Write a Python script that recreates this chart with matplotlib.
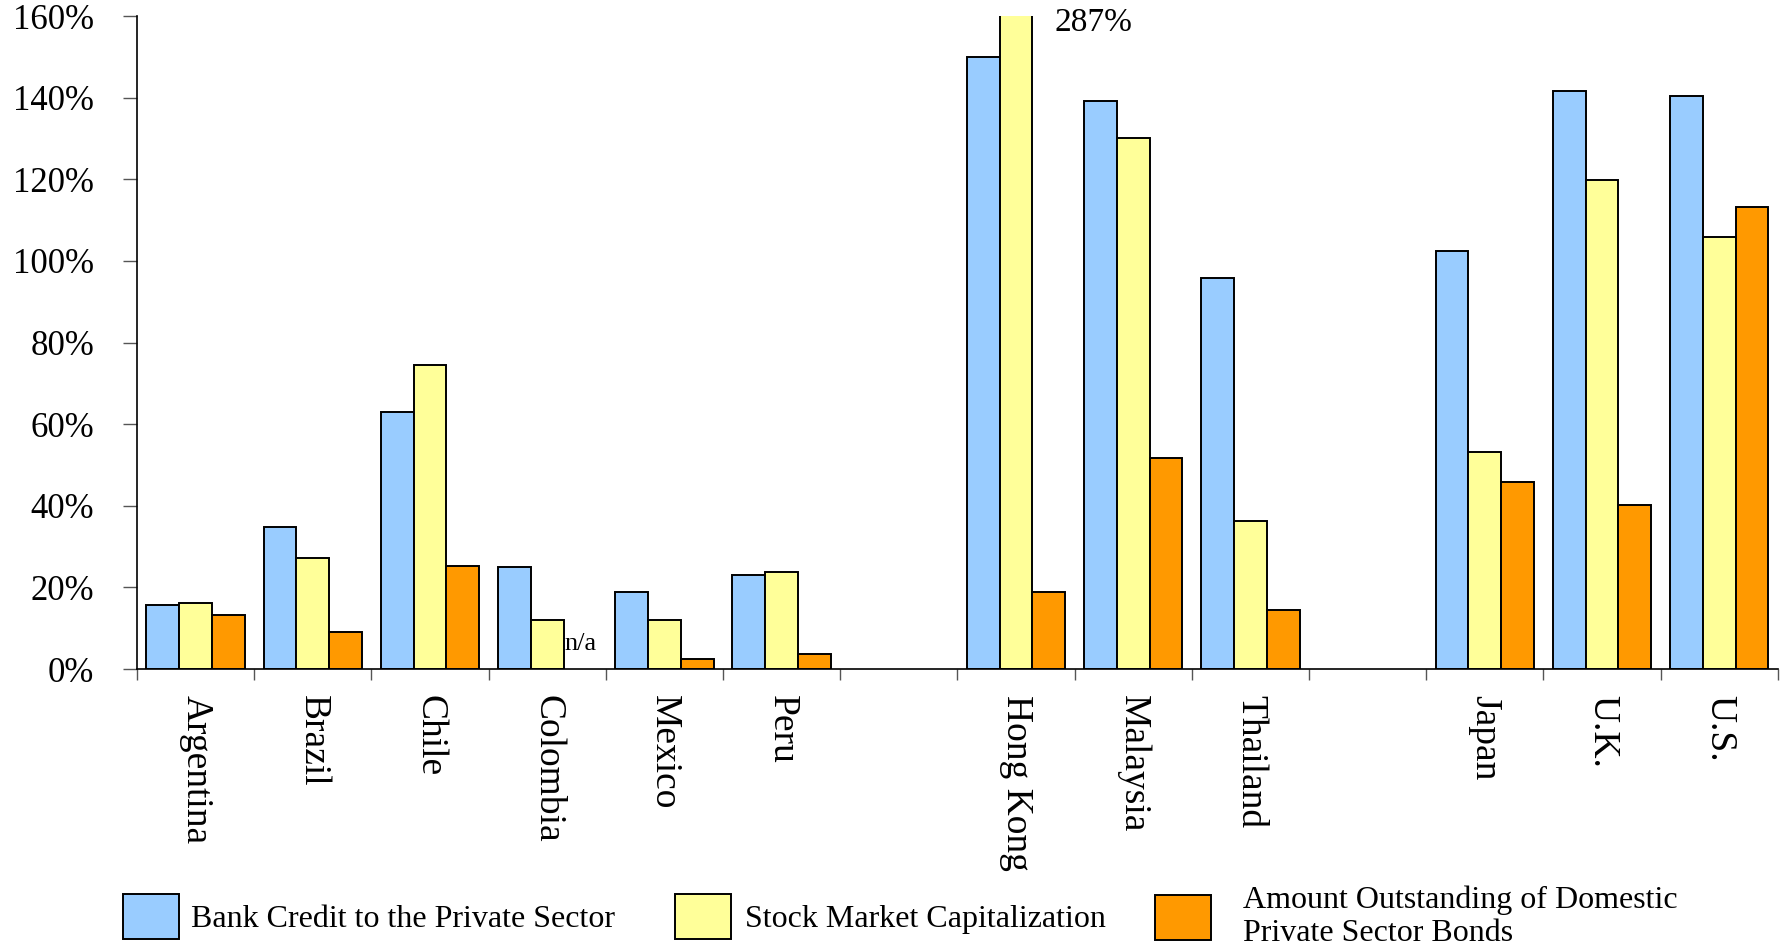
import numpy as np
import matplotlib
matplotlib.use("Agg")
import matplotlib.pyplot as plt
from matplotlib.ticker import FuncFormatter
from matplotlib.patches import Patch

plt.rcParams['font.family'] = ['Liberation Serif', 'DejaVu Serif']

categories = ["Argentina", "Brazil", "Chile", "Colombia", "Mexico", "Peru", "",
              "Hong Kong", "Malaysia", "Thailand", "",
              "Japan", "U.K.", "U.S."]
bank_credit = [15.6, 34.8, 63.0, 25.0, 18.9, 23.1, np.nan,
               150.0, 139.1, 95.9, np.nan,
               102.5, 141.6, 140.5]
stock_cap = [16.2, 27.3, 74.4, 11.9, 11.9, 23.7, np.nan,
             287.0, 130.2, 36.2, np.nan,
             53.3, 119.9, 105.9]
bonds = [13.3, 9.0, 25.2, np.nan, 2.5, 3.8, np.nan,
         18.9, 51.8, 14.4, np.nan,
         45.9, 40.1, 113.2]
series_names = ["Bank Credit to the Private Sector",
                "Stock Market Capitalization",
                "Amount Outstanding of Domestic\nPrivate Sector Bonds"]
colors = ["#99CCFF", "#FFFF99", "#FF9900"]
yticks = [0, 20, 40, 60, 80, 100, 120, 140, 160]

fig = plt.figure(figsize=(17.85, 9.46), dpi=100)
ax = fig.add_axes([0.0768, 0.2928, 0.9192, 0.983 - 0.2928])

x = np.arange(len(categories))
w = 0.28
for i, (vals, col, name) in enumerate(zip([bank_credit, stock_cap, bonds], colors, series_names)):
    ax.bar(x + (i - 1) * w, vals, width=w, color=col, edgecolor="black",
           linewidth=1.4, label=name, zorder=2)

ax.set_xlim(-0.5, len(categories) - 0.5)
ax.set_ylim(0, 160)
ax.set_yticks(yticks)
ax.yaxis.set_major_formatter(FuncFormatter(lambda v, p: f"{v:.0f}%"))
ax.tick_params(axis='y', direction='out', length=10, width=1, color="#555555",
               pad=21, labelsize=25)

ax.set_xticks(np.arange(-0.5, len(categories)), minor=False)
ax.set_xticklabels([])
ax.set_xticks(x, minor=True)
ax.set_xticklabels(categories, minor=True, rotation=-90, ha='center', va='top',
                   fontsize=27)
ax.tick_params(axis='x', which='major', direction='out', length=8, width=1,
               color="#555555")
ax.tick_params(axis='x', which='minor', length=0, pad=19)

for s in ['top', 'right']:
    ax.spines[s].set_visible(False)
for s in ['left', 'bottom']:
    ax.spines[s].set_linewidth(1.2)

# annotations
hk = categories.index("Hong Kong")
ax.text(hk + 0.33, 158.3, f"{stock_cap[hk]:.0f}%", ha='left', va='center',
        fontsize=24, clip_on=False)
co = categories.index("Colombia")
ax.text(co + w, 4.7, "n/a", ha='center', va='baseline', fontsize=19)

# legend: three separately placed entries
anchors_x = [0.0689, 0.378, 0.6473]
text_pads = [0.39, 0.45, 1.0]
for name, col, ax_x, tp in zip(series_names, colors, anchors_x, text_pads):
    leg = fig.legend(handles=[Patch(facecolor=col, edgecolor='black', linewidth=1.4, label=name)],
                     loc='center left', bbox_to_anchor=(ax_x, 0.031), frameon=False,
                     fontsize=23, handlelength=1.75, handleheight=1.8,
                     handletextpad=tp, borderaxespad=0, borderpad=0)
    for t in leg.get_texts():
        t.set_linespacing(1.15)

fig.savefig("out.png", dpi=100)
